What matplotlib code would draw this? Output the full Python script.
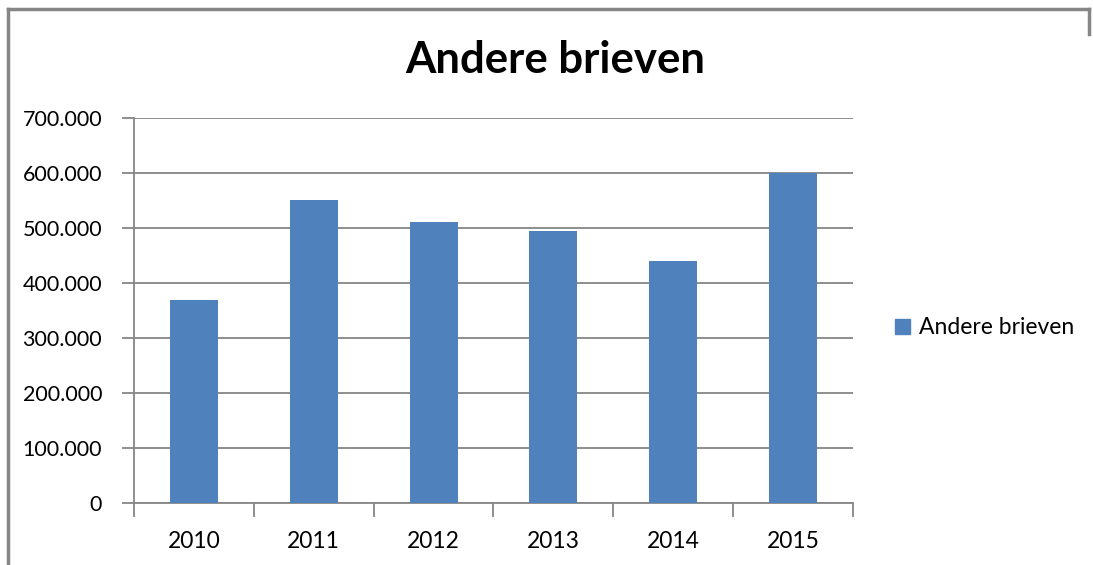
import matplotlib.pyplot as plt
from matplotlib.lines import Line2D
from matplotlib.patches import Patch

# data
jaren = ['2010', '2011', '2012', '2013', '2014', '2015']
brieven = [370000, 551000, 511000, 495000, 441000, 600000]
yticks = [0, 100000, 200000, 300000, 400000, 500000, 600000, 700000]

blauw = '#4F81BD'
grijs = '#868686'
plt.rcParams['font.family'] = ['Lato', 'DejaVu Sans']

fig = plt.figure(figsize=(10.93, 5.65), dpi=100)
ax = fig.add_axes([0.1226, 0.1092, 0.6578, 0.6814])

x = range(len(jaren))
ax.bar(x, brieven, width=0.4, color=blauw, zorder=3)

ax.set_xlim(-0.5, len(jaren) - 0.5)
ax.set_ylim(0, 700000)
ax.set_yticks(yticks)
ax.set_yticklabels(['0' if v == 0 else f'{v:,}'.replace(',', '.') for v in yticks])
ax.set_xticks(list(x))
ax.set_xticklabels(jaren)
ax.set_xticks([i - 0.5 for i in range(len(jaren) + 1)], minor=True)

ax.yaxis.grid(True, color=grijs, linewidth=1.3, zorder=0)
for s in ['top', 'right']:
    ax.spines[s].set_visible(False)
for s in ['left', 'bottom']:
    ax.spines[s].set_color(grijs)
    ax.spines[s].set_linewidth(1.3)

ax.tick_params(axis='y', length=9, width=1.3, color=grijs, labelsize=15.5, pad=14)
ax.tick_params(axis='x', which='major', length=0, labelsize=16.5, pad=20)
ax.tick_params(axis='x', which='minor', length=10, width=1.3, color=grijs)

fig.text(0.508, 0.893, 'Andere brieven', ha='center', va='center',
         fontsize=31.5, fontweight='bold')

fig.legend(handles=[Patch(color=blauw, label='Andere brieven')],
           loc='center left', bbox_to_anchor=(0.8, 0.42), frameon=False,
           fontsize=16.5, handlelength=0.65, handleheight=0.65, handletextpad=0.4)

# kader van de grafiek
fig.add_artist(Line2D([0.0075, 0.0075], [0, 0.984], color=grijs, linewidth=2.5))
fig.add_artist(Line2D([0.0075, 0.996], [0.984, 0.984], color=grijs, linewidth=2.5))
fig.add_artist(Line2D([0.996, 0.996], [0.984, 0.94], color=grijs, linewidth=2.5))

fig.savefig('out.png', dpi=100)
